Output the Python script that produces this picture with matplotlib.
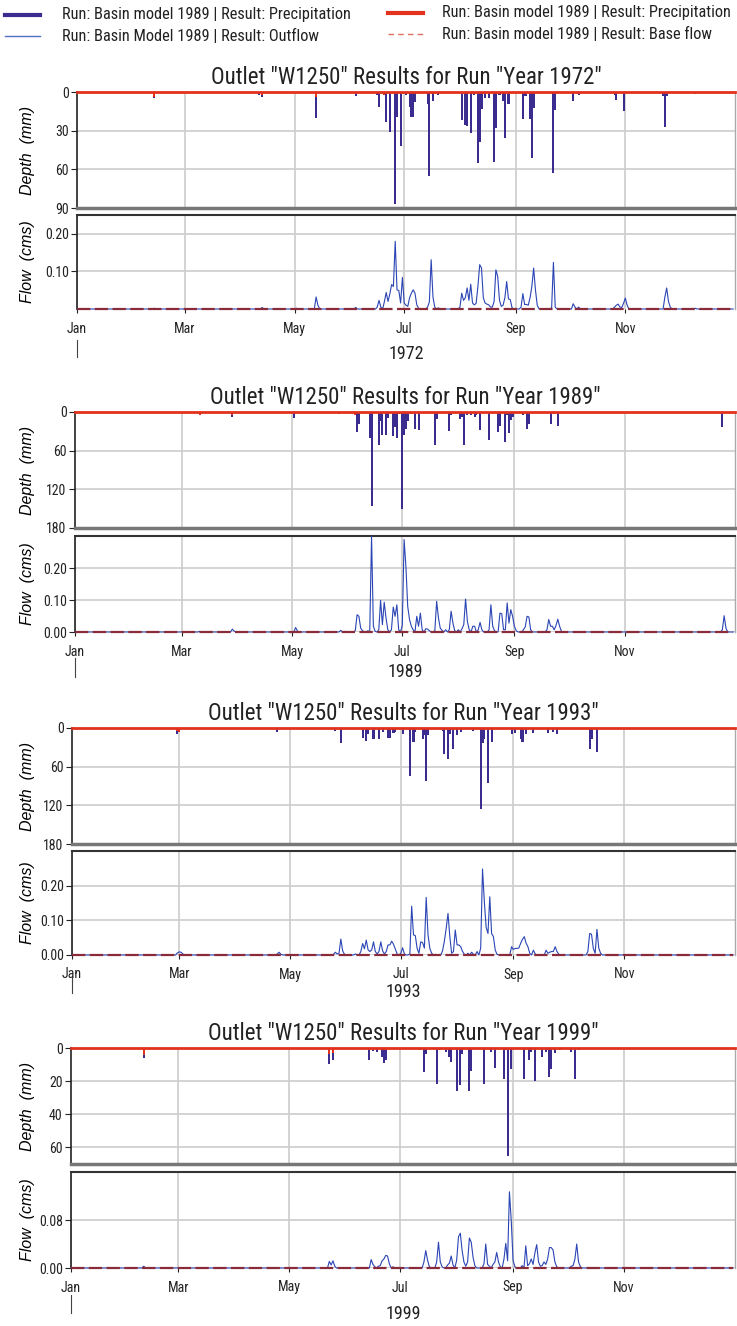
import numpy as np
import pandas as pd
import matplotlib
matplotlib.use("Agg")
import matplotlib.pyplot as plt
import matplotlib.ticker as mticker
from matplotlib.lines import Line2D
from matplotlib import font_manager

# ---- data: day of year (0 = Jan 1) and values ----
years = [1972, 1989, 1993, 1999]

# 1972
p72_day = [43, 101, 103, 122, 133, 155, 167, 168, 172, 174, 177, 178, 180, 183, 185, 186, 187, 188, 190,
           195, 196, 198, 201, 214, 216, 217, 219, 221, 223, 224, 225, 227, 229, 232, 233, 235, 237, 238,
           240, 248, 249, 250, 252, 253, 254, 265, 266, 276, 279, 299, 300, 304, 326, 327, 328, 344]
p72_mm = [5, 2, 4, 1, 20, 3, 2, 12, 23, 31, 87, 19.5, 42, 2, 12, 19.5, 19.5, 8, 1,
          9, 65, 7, 2, 22, 25.5, 26, 31.5, 2, 55, 39, 13, 5, 5, 54, 28, 2, 7, 36,
          9, 21, 3, 3, 21, 51, 12.5, 63, 14, 7, 2, 2, 6, 15, 3, 27, 3, 1.5]
r72_day = [43, 101, 103, 122, 133, 155, 167, 171, 174, 177, 183]
r72_mm = [4, 1, 2, 1, 4, 1, 1, 2, 1, 1, 1]
q72_day = [43, 103, 122, 133, 134, 155, 167, 168, 169, 171, 172, 173, 174, 175, 176, 177, 178, 179, 180,
           181, 182, 183, 184, 185, 186, 187, 188, 189, 190, 195, 196, 197, 198, 199, 201, 213, 214, 215,
           216, 217, 218, 219, 220, 221, 222, 223, 224, 225, 226, 227, 228, 229, 230, 231, 232, 233, 234,
           235, 236, 237, 238, 239, 240, 241, 242, 247, 248, 249, 250, 251, 252, 253, 254, 255, 256, 264,
           265, 266, 276, 277, 279, 299, 300, 301, 302, 303, 304, 305, 306, 327, 328, 329, 330, 344]
q72_cms = [0.002, 0.004, 0.002, 0.032, 0.01, 0.004, 0.005, 0.023, 0.005, 0.02, 0.044, 0.02, 0.04, 0.065,
           0.06, 0.18, 0.051, 0.049, 0.016, 0.084, 0.016, 0.01, 0.007, 0.03, 0.042, 0.051, 0.042, 0.011,
           0.002, 0.005, 0.019, 0.131, 0.032, 0.005, 0.003, 0.005, 0.042, 0.023, 0.03, 0.056, 0.023, 0.066,
           0.016, 0.011, 0.015, 0.06, 0.118, 0.109, 0.03, 0.016, 0.013, 0.011, 0.005, 0.005, 0.02, 0.104,
           0.087, 0.023, 0.007, 0.01, 0.03, 0.073, 0.027, 0.025, 0.003, 0.005, 0.041, 0.012, 0.012, 0.01,
           0.03, 0.06, 0.109, 0.051, 0.01, 0.003, 0.124, 0.005, 0.014, 0.005, 0.005, 0.005, 0.01, 0.013,
           0.005, 0.004, 0.015, 0.029, 0.01, 0.032, 0.056, 0.02, 0.005, 0.002]

# 1989
p89_day = [69, 87, 121, 146, 155, 156, 157, 163, 164, 168, 169, 170, 172, 173, 176, 177, 178, 179, 181,
           182, 183, 184, 186, 188, 190, 193, 194, 199, 200, 204, 207, 208, 213, 214, 215, 217, 219, 221,
           222, 224, 228, 229, 234, 235, 238, 239, 240, 241, 242, 248, 250, 251, 260, 263, 265, 267, 268,
           358, 359]
p89_mm = [4, 7, 9, 3, 5, 31, 19, 40, 146, 51, 14, 36, 36, 10, 37.6, 23, 40, 3, 150,
          35, 27, 14, 3, 26, 28, 2, 2, 51, 11.5, 2, 30, 5, 10.5, 8, 51, 5, 4, 8,
          4, 28, 2, 44, 31, 22, 47, 5, 32, 12, 8, 4, 26.5, 18, 2, 18, 3, 21, 2,
          23.5, 2]
r89_day = [69, 87, 121, 146, 155, 163]
r89_mm = [4, 4, 2, 1, 5, 1]
q89_day = [69, 75, 87, 88, 122, 123, 147, 149, 155, 156, 157, 158, 159, 162, 164, 165, 166, 168, 169,
           170, 171, 172, 173, 175, 176, 177, 178, 179, 181, 182, 183, 184, 185, 186, 187, 189, 190, 191,
           192, 194, 195, 196, 199, 200, 201, 202, 203, 205, 207, 208, 209, 210, 212, 214, 215, 216, 217,
           218, 220, 221, 223, 224, 225, 229, 230, 231, 232, 235, 236, 237, 238, 239, 240, 241, 242, 243,
           244, 248, 249, 250, 251, 252, 261, 262, 263, 264, 265, 266, 267, 268, 269, 358, 359, 360]
q89_cms = [0.002, 0.002, 0.009, 0.003, 0.014, 0.003, 0.005, 0.002, 0.004, 0.054, 0.049, 0.012, 0.004,
           0.004, 0.30, 0.018, 0.002, 0.007, 0.099, 0.023, 0.093, 0.044, 0.007, 0.007, 0.078, 0.049, 0.085,
           0.007, 0.02, 0.289, 0.205, 0.08, 0.039, 0.018, 0.007, 0.049, 0.018, 0.059, 0.007, 0.01, 0.009,
           0.004, 0.004, 0.096, 0.044, 0.012, 0.005, 0.007, 0.007, 0.065, 0.028, 0.004, 0.007, 0.01, 0.023,
           0.103, 0.033, 0.007, 0.018, 0.018, 0.007, 0.03, 0.007, 0.007, 0.085, 0.018, 0.004, 0.059, 0.057,
           0.007, 0.007, 0.091, 0.028, 0.07, 0.049, 0.018, 0.004, 0.007, 0.016, 0.049, 0.047, 0.007, 0.007,
           0.039, 0.018, 0.018, 0.007, 0.02, 0.04, 0.018, 0.002, 0.007, 0.051, 0.012]

# 1993
p93_day = [58, 59, 113, 145, 148, 160, 162, 163, 166, 169, 171, 174, 175, 177, 178, 182, 186, 188, 189,
           193, 194, 195, 196, 204, 205, 207, 208, 210, 212, 214, 221, 225, 226, 227, 229, 231, 242, 244,
           247, 248, 250, 254, 262, 265, 267, 285, 286, 289]
p93_mm = [10, 6, 6, 4.5, 24, 15.5, 20, 10, 16.5, 16.5, 6, 15, 15, 8, 6, 10, 74.5, 22, 6,
          16.5, 11, 82, 11, 4, 40, 47.5, 10, 32, 11, 6, 4, 126, 24, 17.5, 86, 22, 10, 7,
          16.5, 22, 9, 8, 7.5, 6, 10, 32, 16.5, 38]
r93_day = [58, 59, 145, 148, 160, 162]
r93_mm = [4, 6, 2, 2, 2, 1]
q93_day = [58, 59, 60, 61, 113, 114, 115, 144, 145, 146, 147, 148, 149, 150, 156, 159, 160, 161, 162,
           163, 164, 165, 166, 167, 168, 169, 170, 171, 172, 173, 174, 175, 176, 177, 178, 179, 181, 182,
           183, 186, 187, 188, 189, 190, 191, 192, 193, 194, 195, 196, 197, 198, 200, 204, 205, 206, 207,
           208, 209, 210, 211, 212, 213, 214, 215, 216, 218, 220, 221, 223, 225, 226, 227, 228, 229, 230,
           231, 232, 233, 234, 242, 243, 244, 245, 246, 247, 248, 249, 250, 251, 252, 254, 255, 261, 262,
           263, 264, 265, 266, 267, 268, 284, 285, 286, 287, 288, 289, 290, 291]
q93_cms = [0.006, 0.009, 0.008, 0.003, 0.003, 0.008, 0.002, 0.002, 0.008, 0.003, 0.005, 0.046, 0.012,
           0.002, 0.003, 0.01, 0.033, 0.018, 0.043, 0.015, 0.01, 0.015, 0.038, 0.01, 0.003, 0.01, 0.038,
           0.012, 0.003, 0.01, 0.029, 0.029, 0.04, 0.031, 0.017, 0.003, 0.005, 0.021, 0.003, 0.003, 0.141,
           0.058, 0.056, 0.019, 0.005, 0.038, 0.036, 0.02, 0.166, 0.058, 0.019, 0.005, 0.002, 0.012, 0.04,
           0.077, 0.12, 0.053, 0.005, 0.01, 0.072, 0.029, 0.029, 0.024, 0.01, 0.002, 0.005, 0.008, 0.002,
           0.01, 0.02, 0.248, 0.154, 0.08, 0.062, 0.168, 0.062, 0.053, 0.014, 0.002, 0.024, 0.016, 0.019,
           0.019, 0.02, 0.034, 0.045, 0.053, 0.034, 0.024, 0.005, 0.014, 0.003, 0.014, 0.005, 0.008, 0.01,
           0.01, 0.024, 0.01, 0.002, 0.01, 0.062, 0.06, 0.019, 0.005, 0.074, 0.02, 0.005]

# 1999
p99_day = [40, 142, 144, 164, 166, 168, 171, 172, 173, 179, 192, 194, 195, 201, 203, 206, 208, 209, 212,
           214, 215, 219, 220, 227, 231, 233, 238, 239, 240, 242, 249, 252, 253, 255, 259, 261, 262, 263,
           264, 266, 269, 275, 277, 279]
p99_mm = [6, 9.4, 7, 7.4, 2, 2.4, 5.4, 9, 7, 0.5, 1, 14.5, 3.4, 22, 1.5, 2.4, 5.4, 8.4, 26,
          22.5, 3.4, 26, 14, 21.5, 2.4, 12, 18.5, 1.5, 65, 12.5, 19, 7, 2.4, 20, 5.4, 2.4, 1.5, 17.5,
          12.5, 3, 1, 2.4, 18.5, 1.5]
r99_day = [40, 142, 144, 164, 166, 172, 173]
r99_mm = [4, 3.4, 3, 1.5, 1, 1, 1]
q99_day = [40, 142, 143, 144, 145, 165, 166, 167, 169, 170, 171, 172, 173, 174, 175, 177, 194, 195, 196,
           197, 201, 202, 203, 204, 207, 208, 209, 210, 212, 213, 214, 215, 216, 217, 218, 219, 220, 221,
           222, 227, 228, 229, 230, 232, 233, 234, 235, 236, 238, 239, 240, 241, 242, 243, 244, 248, 250,
           251, 252, 253, 254, 255, 256, 257, 258, 259, 260, 261, 262, 263, 264, 265, 266, 267, 275, 276,
           277, 278, 279, 280]
q99_cms = [0.003, 0.011, 0.005, 0.012, 0.003, 0.014, 0.006, 0.002, 0.003, 0.004, 0.012, 0.015, 0.021,
           0.02, 0.007, 0.002, 0.01, 0.029, 0.013, 0.002, 0.01, 0.043, 0.01, 0.002, 0.005, 0.008, 0.02,
           0.005, 0.013, 0.052, 0.058, 0.029, 0.01, 0.003, 0.01, 0.05, 0.043, 0.018, 0.004, 0.007, 0.04,
           0.006, 0.003, 0.006, 0.01, 0.026, 0.01, 0.002, 0.015, 0.041, 0.012, 0.127, 0.079, 0.013, 0.002,
           0.004, 0.037, 0.004, 0.007, 0.015, 0.006, 0.025, 0.039, 0.01, 0.003, 0.004, 0.01, 0.006, 0.015,
           0.034, 0.034, 0.03, 0.01, 0.002, 0.003, 0.004, 0.015, 0.04, 0.01, 0.002]

precip_days = [p72_day, p89_day, p93_day, p99_day]
precip_mm = [p72_mm, p89_mm, p93_mm, p99_mm]
red_days = [r72_day, r89_day, r93_day, r99_day]
red_mm = [r72_mm, r89_mm, r93_mm, r99_mm]
flow_days = [q72_day, q89_day, q93_day, q99_day]
flow_cms = [q72_cms, q89_cms, q93_cms, q99_cms]

depth_max = [90, 180, 180, 70]
depth_ticks = [[0, 30, 60, 90], [0, 60, 120, 180], [0, 60, 120, 180], [0, 20, 40, 60]]
flow_max = [0.25, 0.30, 0.30, 0.16]
flow_ticks = [[0.10, 0.20], [0.0, 0.10, 0.20], [0.0, 0.10, 0.20], [0.0, 0.08]]
month_labels = ["Jan", "Mar", "May", "Jul", "Sep", "Nov"]

# ---- layout (pixels in a 737 x 1326 image) ----
W, H = 737, 1326
# left, precip top/bottom, flow top/bottom, title y, year y, jan-mark y0/y1
layout = [
    (77, 92, 208, 215, 309, 75, 354, 340, 357),
    (75, 412, 528, 536, 632, 394, 672, 658, 677),
    (72, 728, 844, 851, 955, 707, 992, 977, 993),
    (71, 1048, 1164, 1172, 1268, 1027, 1314, 1295, 1313),
]
RIGHT = 735

# pick a narrow sans face if one is installed
narrow = "Liberation Sans"
for f in font_manager.fontManager.ttflist:
    if "Narrow" in f.name or "Condensed" in f.name:
        narrow = f.name
        if "Liberation" in f.name:
            break
plt.rcParams["font.family"] = [narrow, "DejaVu Sans"]
scale = 1.0 if narrow != "Liberation Sans" else 0.88

INDIGO = "#3a2d8f"
RED = "#e2311d"
BLUE = "#2b45b5"
MAROON = "#8a2b3a"
GRID = "#cccccc"
TXT = "#222222"
ITALIC = dict(family=["Liberation Sans", "DejaVu Sans"], style="italic", fontstretch="normal")


def rect(left, top, bottom):
    return [left / W, 1 - bottom / H, (RIGHT - left) / W, (bottom - top) / H]


fig = plt.figure(figsize=(W / 100, H / 100), dpi=100)

for i, yr in enumerate(years):
    left, pt, pb, ft, fb, ty, yy, j0, j1 = layout[i]
    dates = pd.date_range(f"{yr}-01-01", f"{yr}-12-31", freq="D")
    start, end = dates[0], dates[-1] + pd.Timedelta(days=1)
    mticks = [pd.Timestamp(yr, m, 1) for m in (1, 3, 5, 7, 9, 11)]

    # precipitation (depth, inverted)
    ax = fig.add_axes(rect(left, pt, pb))
    ax.bar(dates[np.array(precip_days[i])], precip_mm[i], width=1.15, color=INDIGO,
           linewidth=0, zorder=3)
    ax.bar(dates[np.array(red_days[i])], red_mm[i], width=1.15, color=RED, linewidth=0, zorder=4)
    ax.set_ylim(depth_max[i], 0)
    ax.set_yticks(depth_ticks[i])
    ax.set_xlim(start, end)
    ax.set_xticks(mticks[1:])
    ax.grid(True, color=GRID, lw=1.2, zorder=0)
    ax.tick_params(axis="x", length=0, labelbottom=False)
    ax.tick_params(axis="y", length=4, width=0.8, labelsize=10 * scale, colors=TXT, pad=2)
    ax.spines["top"].set_color(RED)
    ax.spines["top"].set_linewidth(2)
    ax.spines["top"].set_zorder(5)
    ax.spines["bottom"].set_color("#777777")
    ax.spines["bottom"].set_linewidth(2.5)
    ax.spines["left"].set_color(TXT)
    ax.spines["left"].set_linewidth(1.2)
    ax.spines["right"].set_color("#aaaaaa")
    ax.spines["right"].set_linewidth(1)
    ax.set_ylabel("Depth  (mm)", fontsize=11.5, **ITALIC)
    ax.yaxis.set_label_coords((35 - left) / (RIGHT - left), 0.5)
    ax.set_title(f'Outlet "W1250" Results for Run "Year {yr}"', fontsize=16.5 * scale, pad=6,
                 color=TXT)

    # flow
    ax2 = fig.add_axes(rect(left, ft, fb))
    q = np.zeros(len(dates))
    q[np.array(flow_days[i])] = flow_cms[i]
    base = np.zeros(len(dates))
    ax2.plot(dates, q, color=BLUE, lw=0.8, zorder=3, clip_on=False)
    ax2.plot(dates, base, color=MAROON, lw=1.6, ls=(0, (6, 2)), zorder=4, clip_on=False)
    ax2.set_ylim(0, flow_max[i])
    ax2.set_yticks(flow_ticks[i])
    ax2.yaxis.set_major_formatter(mticker.FormatStrFormatter("%.2f"))
    ax2.set_xlim(start, end)
    ax2.set_xticks(mticks)
    ax2.set_xticklabels(month_labels, va="top")
    ax2.grid(True, color=GRID, lw=1.2, zorder=0)
    ax2.tick_params(axis="x", length=3, width=0.8, labelsize=10 * scale, colors=TXT, pad=6)
    ax2.tick_params(axis="y", length=4, width=0.8, labelsize=10 * scale, colors=TXT, pad=2)
    ax2.spines["bottom"].set_visible(False)
    ax2.spines["top"].set_color("#333333")
    ax2.spines["top"].set_linewidth(1.5)
    ax2.spines["left"].set_color(TXT)
    ax2.spines["left"].set_linewidth(1.2)
    ax2.spines["right"].set_color("#aaaaaa")
    ax2.spines["right"].set_linewidth(1)
    ax2.set_ylabel("Flow  (cms)", fontsize=11.5, **ITALIC)
    ax2.yaxis.set_label_coords((35 - left) / (RIGHT - left), 0.5)

    # year label and year mark below Jan
    fig.text((left + RIGHT) / 2 / W, 1 - yy / H, str(yr), ha="center", va="center",
             fontsize=13 * scale, color=TXT)
    fig.add_artist(Line2D([left / W, left / W], [1 - j0 / H, 1 - j1 / H], color="#444444", lw=0.8))

# legend
leg = [
    (5, 40, 15, 62, INDIGO, 3, "-", "Run: Basin model 1989 | Result: Precipitation"),
    (5, 40, 36, 62, "#5070c8", 1, "-", "Run: Basin Model 1989 | Result: Outflow"),
    (388, 423, 13, 442, RED, 3, "-", "Run: Basin model 1989 | Result: Precipitation"),
    (388, 423, 34, 442, "#e07060", 1, (0, (4, 3)), "Run: Basin model 1989 | Result: Base flow"),
]
for x0, x1, y, tx, c, lw, ls, label in leg:
    fig.add_artist(Line2D([x0 / W, x1 / W], [1 - y / H, 1 - y / H], color=c, lw=lw, ls=ls))
    fig.text(tx / W, 1 - y / H, label, ha="left", va="center", fontsize=11.8 * scale, color=TXT)

fig.savefig("out.png", dpi=100)
